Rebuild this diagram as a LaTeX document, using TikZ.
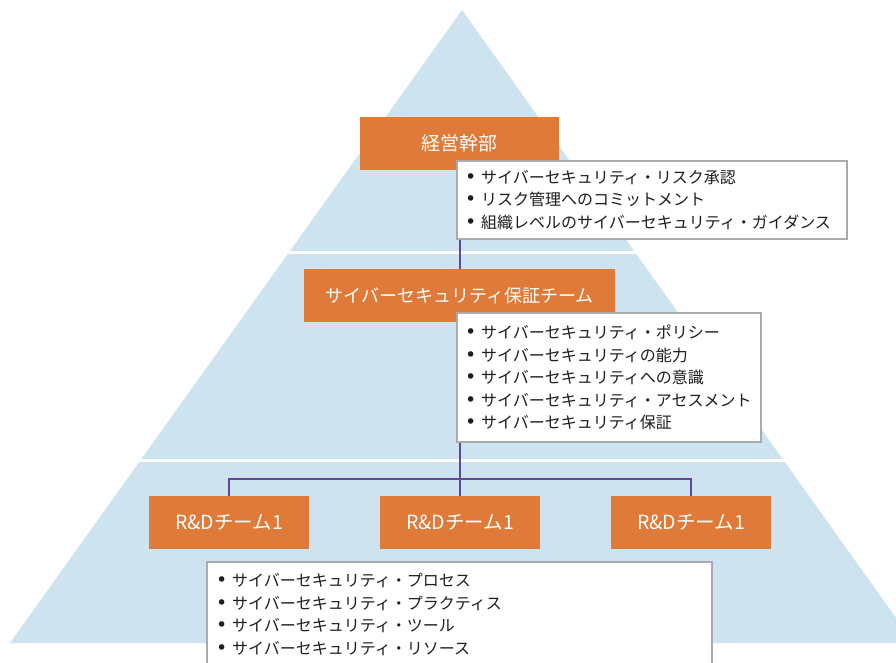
\documentclass[tikz,border=0pt]{standalone}
\usepackage{fontspec}
\setmainfont{Noto Sans CJK JP}
\newfontfamily\bulfont{DejaVu Sans}
\definecolor{pyrblue}{HTML}{CDE4F0}
\definecolor{boxorange}{HTML}{E07A38}
\definecolor{connpurple}{HTML}{644696}
\definecolor{bordergray}{HTML}{A9ABAE}
\definecolor{txtgray}{HTML}{1E1E1E}
\newcommand\bul{\makebox[17pt][l]{\hspace{1pt}{\bulfont\fontsize{19}{14}\selectfont •}}}
\tikzset{
  obox/.style={fill=boxorange, text=white, font=\fontsize{18}{20}\selectfont, inner sep=0pt, minimum height=53pt},
  rbox/.style={obox, font=\fontsize{19.5}{20}\selectfont, minimum width=160pt},
  tbox/.style={fill=white, draw=bordergray, line width=2pt, inner sep=0pt},
  ttext/.style={text=txtgray, font=\fontsize{16}{22.5}\selectfont, align=left, inner sep=0pt, anchor=west},
  conn/.style={draw=connpurple, line width=2pt},
  band/.style={draw=white, line width=3pt}
}
\begin{document}
\begin{tikzpicture}[x=1pt,y=-1pt]
\useasboundingbox (0,0) rectangle (896,662);
\clip (0,0) rectangle (896,662);
\fill[white] (0,0) rectangle (896,662);
% pyramid
\fill[pyrblue] (462,10) -- (10,643) -- (914,643) -- cycle;
\draw[band] (0,252.5) -- (896,252.5);
\draw[band] (0,460.5) -- (896,460.5);
% connectors (drawn under boxes)
\coordinate (barl) at (229,479);
\coordinate (barr) at (691,479);
\draw[conn] (460,239) -- (460,269);
\draw[conn] (460,442) -- (460,496);
\draw[conn] (229,496) -- (barl) -- (barr) -- (691,496);
% level 1
\node[obox, minimum width=199pt, font=\fontsize{19}{20}\selectfont] (c1) at (459.5,143) {経営幹部};
\node[tbox, minimum width=390pt, minimum height=78pt] (t1) at (652,200) {};
\node[ttext] (t1x) at ([xshift=8pt]t1.west) {\bul サイバーセキュリティ・リスク承認\\ \bul リスク管理へのコミットメント\\ \bul 組織レベルのサイバーセキュリティ・ガイダンス};
% level 2
\node[obox, minimum width=311pt] (c2) at (459.5,295.5) {サイバーセキュリティ保証チーム};
\node[tbox, minimum width=304pt, minimum height=129pt] (t2) at (609,377.5) {};
\node[ttext] (t2x) at ([xshift=8pt]t2.west) {\bul サイバーセキュリティ・ポリシー\\ \bul サイバーセキュリティの能力\\ \bul サイバーセキュリティへの意識\\ \bul サイバーセキュリティ・アセスメント\\ \bul サイバーセキュリティ保証};
% level 3
\node[rbox] (r1) at (229,522.5) {R\&Dチーム1};
\node[rbox] (r2) at (460,522.5) {R\&Dチーム1};
\node[rbox] (r3) at (691,522.5) {R\&Dチーム1};
\node[tbox, minimum width=505pt, minimum height=140pt] (t3) at (459.5,632) {};
\node[ttext] (t3x) at (215,614.5) {\bul サイバーセキュリティ・プロセス\\ \bul サイバーセキュリティ・プラクティス\\ \bul サイバーセキュリティ・ツール\\ \bul サイバーセキュリティ・リソース};
\end{tikzpicture}
\end{document}
